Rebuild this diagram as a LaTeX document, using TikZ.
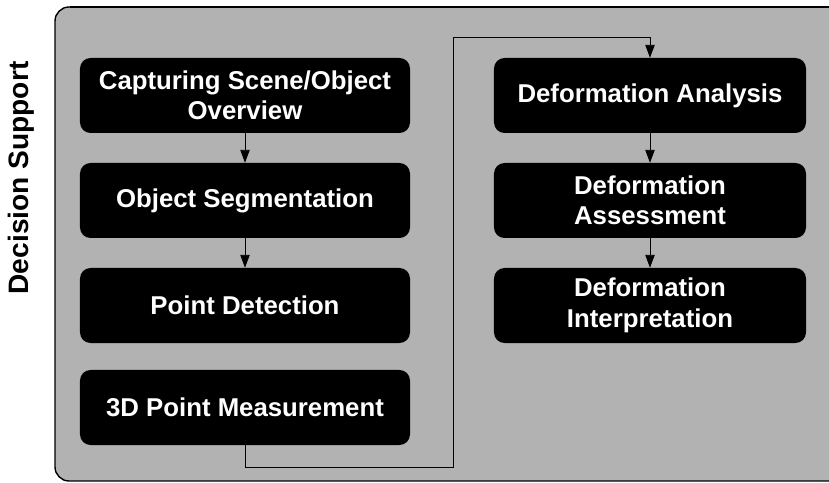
\documentclass[tikz,border=0pt]{standalone}
\usepackage{fontspec}
\setmainfont{Liberation Sans}
\usetikzlibrary{arrows.meta,positioning}

\begin{document}
\begin{tikzpicture}[x=0.03cm,y=-0.03cm,
  stage/.style={fill=black,text=white,rounded corners=9pt,align=center,inner sep=0pt,
    minimum height=2.25cm,font=\bfseries\fontsize{22}{26}\selectfont},
  leftstage/.style={stage,minimum width=9.9cm},
  rightstage/.style={stage,minimum width=9.36cm},
  flow/.style={-{Triangle[length=11pt,width=8pt]},line width=0.7pt,black}]
\useasboundingbox (0,0) rectangle (829,483);
\clip (0,0) rectangle (829,483);
\draw[fill=black!30,line width=1.2pt,rounded corners=12pt] (55,7) rectangle (850,481);
\draw[line width=2.2pt] (70,7) -- (829,7);

\node[rotate=90,font=\bfseries\fontsize{24}{27}\selectfont] (side) at (21,178) {Decision Support};

\node[leftstage] (capt) at (245,95.5) {Capturing Scene/Object\\Overview};
\node[leftstage] (segm) at (245,200.5) {Object Segmentation};
\node[leftstage] (detc) at (245,305.5) {Point Detection};
\node[leftstage] (meas) at (245,407.5) {3D Point Measurement};

\node[rightstage] (anal) at (650,95.5) {Deformation Analysis};
\node[rightstage] (asse) at (650,200.5) {Deformation\\Assessment};
\node[rightstage] (intp) at (650,305.5) {Deformation\\Interpretation};

\coordinate (c1) at (453,467);
\coordinate (c2) at (453,37);

\draw[flow] (capt) -- (segm);
\draw[flow] (segm) -- (detc);
\draw[flow] (anal) -- (asse);
\draw[flow] (asse) -- (intp);
\draw[flow] (meas.south) |- (c1) -- (c2) -| (anal.north);
\end{tikzpicture}
\end{document}
